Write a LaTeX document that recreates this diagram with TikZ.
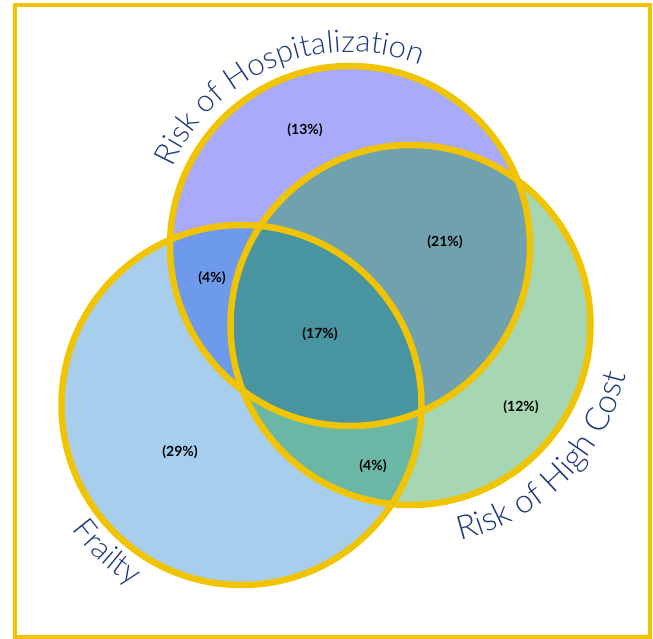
\documentclass[tikz,border=0pt]{standalone}
\usepackage{fontspec}
\setmainfont{Lato}
\newfontfamily\labelfont{Lato Light}
\usetikzlibrary{decorations.text,calc}

\definecolor{gold}{HTML}{F0C400}
\definecolor{navy}{HTML}{1F3A7A}
\definecolor{hospfill}{HTML}{AAAAFA}
\definecolor{frailfill}{HTML}{A8CEEE}
\definecolor{costfill}{HTML}{A7D7B2}
\definecolor{hospfrail}{HTML}{6E9AEC}
\definecolor{hospcost}{HTML}{6FA1AE}
\definecolor{frailcost}{HTML}{6BB7A5}
\definecolor{allthree}{HTML}{4894A0}

\newcommand{\ringr}{180}
\newcommand{\lblfont}{\labelfont\fontsize{31}{36}\selectfont}
\newcommand{\costlblfont}{\labelfont\fontsize{33}{38}\selectfont}

\begin{document}
\begin{tikzpicture}[x=1pt,y=1pt,
  ring/.style={draw=gold, line width=6.5pt},
  frame/.style={draw=gold, line width=4pt},
  pct/.style={font=\bfseries\fontsize{14}{15}\selectfont, text=black, inner sep=0pt},
  arclabel/.style={decorate, decoration={text along path, text={|\lblfont|#1},
      text align=center, text color=navy}},
  costlabel/.style={decorate, decoration={text along path, text={|\costlblfont|#1},
      text align=center, text color=navy}}]
\useasboundingbox (0,0) rectangle (653,639);

% outer frame
\draw[frame] (14.5,2) rectangle (650,633.5);

% circle centres
\coordinate (H) at (350,393);
\coordinate (F) at (241.5,234);
\coordinate (C) at (410.5,314);

% single-set fills
\fill[hospfill] (H) circle[radius=\ringr];
\fill[frailfill] (F) circle[radius=\ringr];
\fill[costfill] (C) circle[radius=\ringr];

% pairwise overlaps
\begin{scope}
  \clip (H) circle[radius=\ringr];
  \fill[hospfrail] (F) circle[radius=\ringr];
  \fill[hospcost] (C) circle[radius=\ringr];
\end{scope}
\begin{scope}
  \clip (F) circle[radius=\ringr];
  \fill[frailcost] (C) circle[radius=\ringr];
\end{scope}
% triple overlap
\begin{scope}
  \clip (H) circle[radius=\ringr];
  \clip (F) circle[radius=\ringr];
  \fill[allthree] (C) circle[radius=\ringr];
\end{scope}

% outlines
\draw[ring] (H) circle[radius=\ringr];
\draw[ring] (F) circle[radius=\ringr];
\draw[ring] (C) circle[radius=\ringr];

% curved set labels
\path[arclabel={Risk of Hospitalization}]
  ($(H)+(175:194)$) arc[start angle=175, end angle=50, radius=194];
\path[costlabel={Risk of High Cost}]
  ($(C)+(-103:221)$) arc[start angle=-103, end angle=13, radius=221];
\path[arclabel={Frailty}]
  ($(F)+(195:211)$) arc[start angle=195, end angle=260, radius=211];

% region percentages
\node[pct] (p13) at (305,509) {(13\%)};
\node[pct] (p21) at (445,397) {(21\%)};
\node[pct] (p4a) at (212,361) {(4\%)};
\node[pct] (p17) at (320,305) {(17\%)};
\node[pct] (p12) at (521,232) {(12\%)};
\node[pct] (p29) at (180,187) {(29\%)};
\node[pct] (p4b) at (373,173) {(4\%)};
\end{tikzpicture}
\end{document}
